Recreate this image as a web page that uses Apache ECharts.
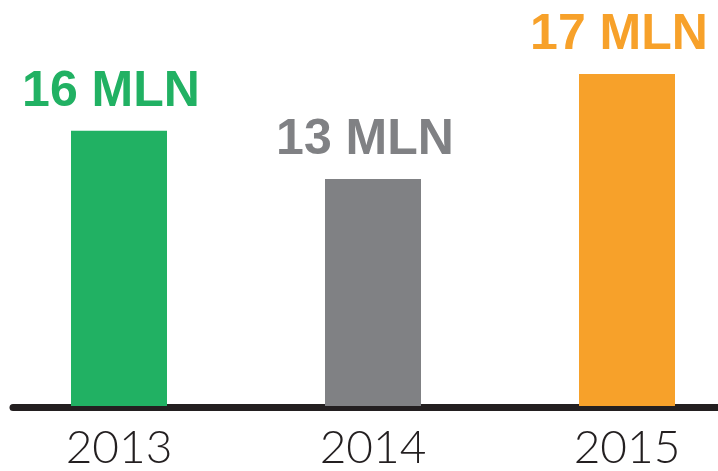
<!DOCTYPE html>
<html>
<head>
<meta charset="utf-8">
<script src="https://cdn.jsdelivr.net/npm/echarts@6/dist/echarts.min.js"></script>
<style>html,body{margin:0;padding:0;background:#fff}#c{width:718px;height:471px}</style>
</head>
<body>
<div id="c"></div>
<script>
const years = ['2013', '2014', '2015'];
const labelValues = [16, 13, 17];
const barHeights = [16, 13.2, 19.3];
const colors = ['#21b163', '#808184', '#f7a12a'];
const unit = 'MLN';

const chart = echarts.init(document.getElementById('c'));
chart.setOption({
  animation: false,
  grid: [
    { left: 119, width: 508, top: 0, bottom: 63.5 },
    { left: 13, right: 0, top: 0, bottom: 63.5 }
  ],
  xAxis: [
    {
      type: 'category', gridIndex: 0, data: years, boundaryGap: false,
      axisLine: { show: false }, axisTick: { show: false },
      axisLabel: { margin: 19, fontFamily: 'Lato', fontWeight: 300, fontSize: 46, color: '#231f20' }
    },
    {
      type: 'category', gridIndex: 1, data: years,
      axisLine: { show: true, lineStyle: { color: '#231f20', width: 7 } },
      axisTick: { show: false }, axisLabel: { show: false }
    }
  ],
  yAxis: [
    { type: 'value', gridIndex: 0, min: 0, max: 23.6, show: false, splitLine: { show: false } },
    { type: 'value', gridIndex: 1, min: 0, max: 23.6, show: false, splitLine: { show: false } }
  ],
  series: [{
    type: 'bar', xAxisIndex: 0, yAxisIndex: 0,
    barWidth: 96,
    data: barHeights.map((v, i) => ({
      value: v,
      itemStyle: { color: colors[i] },
      label: {
        show: true, position: 'top', distance: 14, offset: [-8, 0],
        formatter: labelValues[i] + ' ' + unit,
        color: colors[i], fontFamily: 'Liberation Sans', fontWeight: 'bold', fontSize: 50
      }
    }))
  }]
});
</script>
</body>
</html>
